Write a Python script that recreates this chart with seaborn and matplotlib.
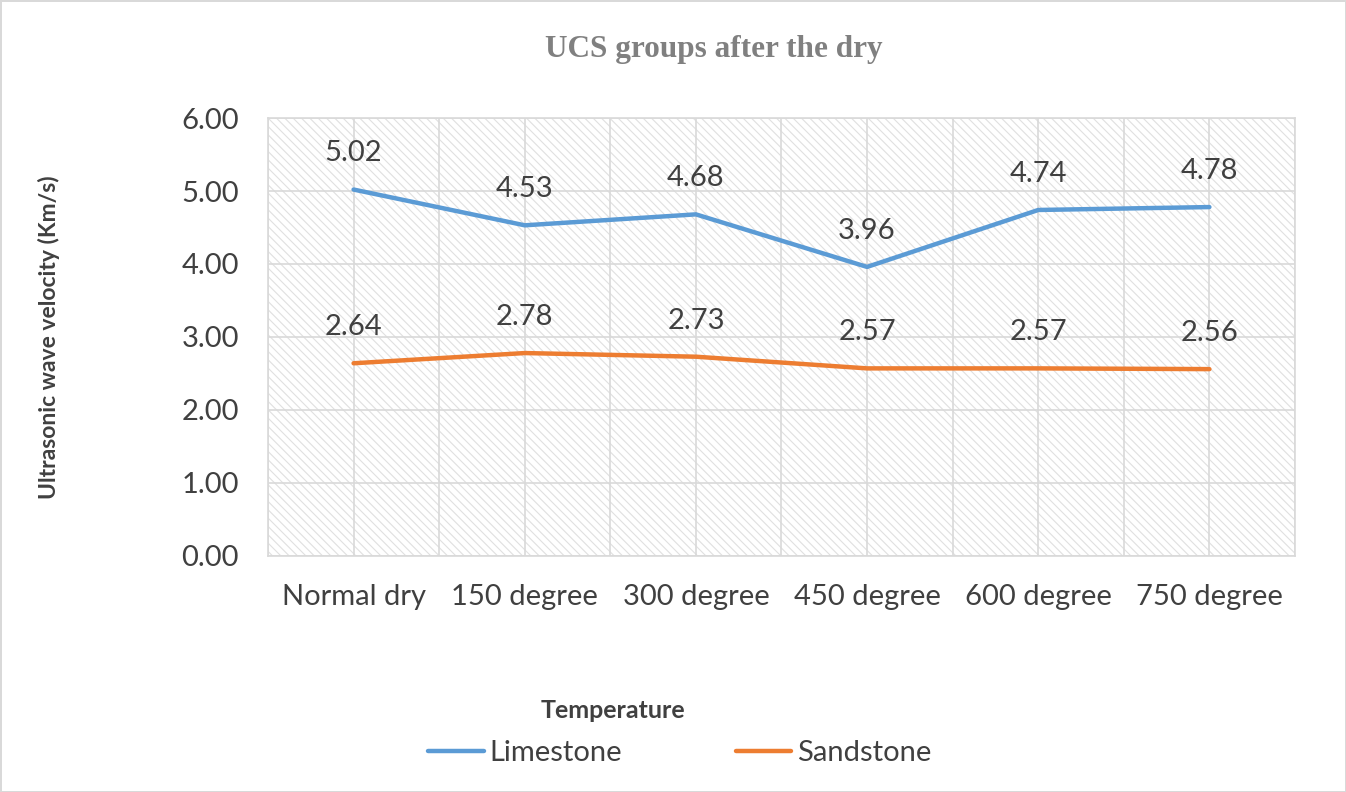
"""
Ultrasonic wave velocity after drying at different temperatures
"""

import numpy as np
import pandas as pd
import matplotlib
import matplotlib.pyplot as plt
from matplotlib.patches import Rectangle
import seaborn as sns

matplotlib.use("Agg")

# data
temperatures = ["Normal dry", "150 degree", "300 degree", "450 degree", "600 degree", "750 degree"]
limestone = [5.02, 4.53, 4.68, 3.96, 4.74, 4.78]
sandstone = [2.64, 2.78, 2.73, 2.57, 2.57, 2.56]
y_ticks = [0, 1, 2, 3, 4, 5, 6]

sns.set_theme(style="white")
plt.rcParams["font.family"] = ["Lato", "DejaVu Sans"]
plt.rcParams["hatch.linewidth"] = 0.8

df = pd.DataFrame(
    {
        "Temperature": temperatures * 2,
        "velocity": limestone + sandstone,
        "rock": ["Limestone"] * len(limestone) + ["Sandstone"] * len(sandstone),
    }
)
palette = {"Limestone": "#5B9BD5", "Sandstone": "#ED7D31"}
text_color = "#404040"
grid_color = "#d9d9d9"

fig = plt.figure(figsize=(13.46, 7.92), dpi=100)
fig.patch.set_edgecolor(grid_color)
fig.patch.set_linewidth(2)
ax = fig.add_axes([0.1991, 0.298, 0.7630, 0.553])

# hatched plot area
ax.add_patch(
    Rectangle((0, 0), 1, 1, transform=ax.transAxes, facecolor="white",
              edgecolor="#e0e0e0", linewidth=0, hatch="\\\\\\\\", zorder=0)
)

sns.lineplot(
    data=df, x="Temperature", y="velocity", hue="rock", palette=palette,
    sort=False, linewidth=3.2, ax=ax, zorder=3,
)

# data labels
for series in (limestone, sandstone):
    for i, v in enumerate(series):
        ax.annotate(f"{v:.2f}", (i, v), xytext=(0, 26), textcoords="offset points",
                    ha="center", va="center", fontsize=21, color=text_color)

ax.set_xlim(-0.5, len(temperatures) - 0.5)
ax.set_ylim(0, 6)
ax.set_yticks(y_ticks)
ax.set_yticklabels([f"{t:.2f}" for t in y_ticks])
ax.set_xticks(np.arange(len(temperatures)))
ax.set_xticks(np.arange(-0.5, len(temperatures), 1.0), minor=True)
ax.grid(True, which="both", color=grid_color, linewidth=1.2, zorder=1)
ax.set_axisbelow(True)
ax.tick_params(axis="both", which="both", length=0, labelsize=21,
               labelcolor=text_color)
ax.tick_params(axis="x", pad=20)
ax.tick_params(axis="y", pad=21)

for spine in ax.spines.values():
    spine.set_color(grid_color)
    spine.set_linewidth(1.2)

ax.set_xlabel("")
ax.set_ylabel("Ultrasonic wave velocity (Km/s)", fontsize=16.5, fontweight="bold",
              color=text_color)
ax.yaxis.set_label_coords(-0.203, 0.5)
fig.text(613 / 1346, 1 - 710 / 792, "Temperature", ha="center", va="center",
         fontsize=18, fontweight="bold", color=text_color)
fig.text(0.530, 0.937, "UCS groups after the dry", ha="center", va="center",
         fontsize=22.5, fontweight="bold", color="#808080", family="Liberation Serif")

ax.legend(loc="center", bbox_to_anchor=(0.505, 1 - 753 / 792), bbox_transform=fig.transFigure,
          ncol=2, frameon=False, fontsize=21, handlelength=1.9, handletextpad=0.2,
          columnspacing=3.9, labelcolor=text_color)

fig.savefig("out.png", dpi=100, edgecolor=fig.get_edgecolor())
